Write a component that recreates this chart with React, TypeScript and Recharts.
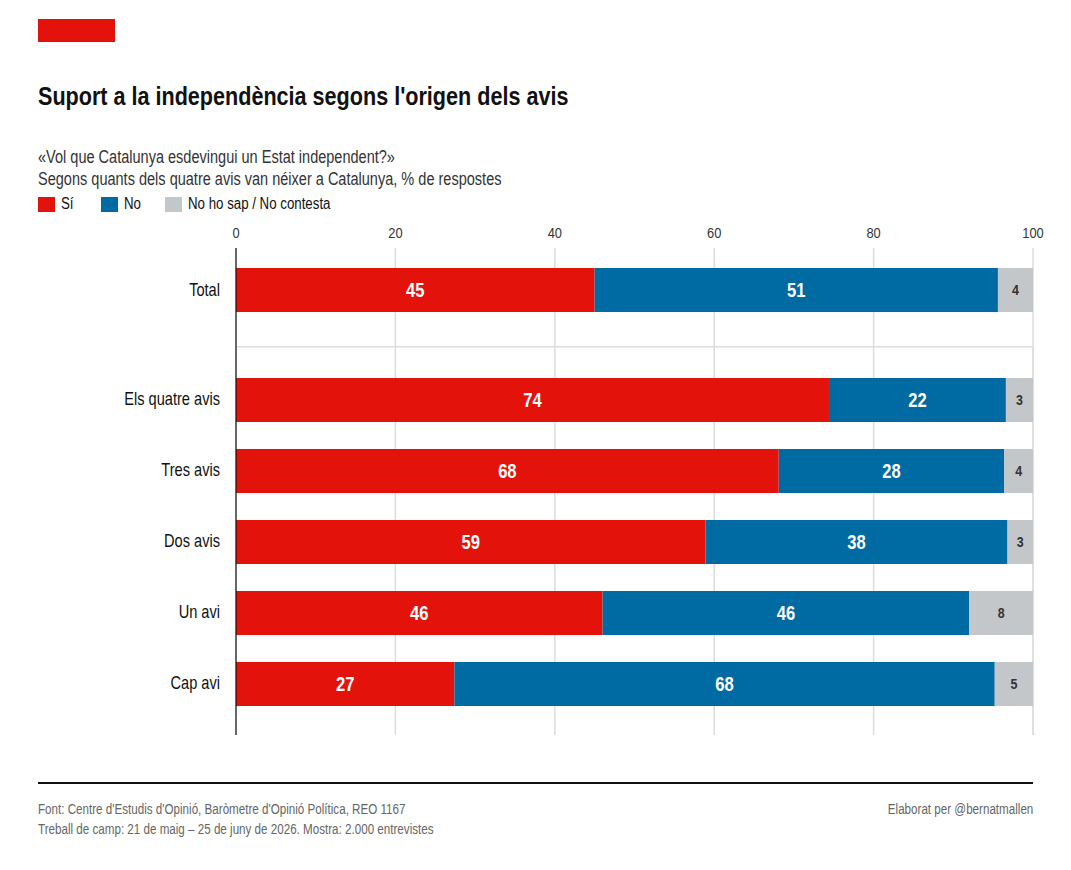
import React from "react";
import {
  BarChart,
  Bar,
  XAxis,
  YAxis,
  CartesianGrid,
  LabelList,
} from "recharts";

const categories = [
  "Total",
  "Els quatre avis",
  "Tres avis",
  "Dos avis",
  "Un avi",
  "Cap avi",
];
const si = [45.0, 74.4, 68.1, 58.9, 46.0, 27.4];
const no = [50.6, 22.2, 28.3, 37.9, 46.0, 67.8];
const nsnc = [4.4, 3.4, 3.6, 3.2, 8.0, 4.8];
const xTicks = [0, 20, 40, 60, 80, 100];

const RED = "#e3130c";
const BLUE = "#006aa2";
const GRAY = "#c3c7ca";
const FONT = "'Liberation Sans', Arial, sans-serif";
// no narrow font installed: squeeze Liberation Sans horizontally
const SQ = 0.83;

const rows = categories.map((name, i) => ({
  name,
  si: si[i],
  no: no[i],
  nsnc: nsnc[i],
}));
const totalRows = rows.slice(0, 1);
const groupRows = rows.slice(1);

const squeeze = (x: number, y: number) =>
  `translate(${x},${y}) scale(${SQ},1) translate(${-x},${-y})`;

const YTick = (props: any) => {
  const { x, y, payload } = props;
  return (
    <text
      x={x}
      y={y}
      dy={6}
      textAnchor="end"
      transform={squeeze(x, y)}
      fill="#111"
      fontSize={17.6}
      fontFamily={FONT}
    >
      {payload.value}
    </text>
  );
};

const XTick = (props: any) => {
  const { x, y, payload } = props;
  return (
    <text
      x={x}
      y={y}
      dy={-2}
      textAnchor="middle"
      transform={squeeze(x, y)}
      fill="#333"
      fontSize={15.5}
      fontFamily={FONT}
    >
      {payload.value}
    </text>
  );
};

const barLabel = (color: string, size: number) => (props: any) => {
  const { x, y, width, height, value } = props;
  const cx = Number(x) + Number(width) / 2;
  const cy = Number(y) + Number(height) / 2;
  return (
    <text
      x={cx}
      y={cy}
      dy={size * 0.36}
      textAnchor="middle"
      transform={squeeze(cx, cy)}
      fill={color}
      fontSize={size}
      fontWeight={700}
      fontFamily={FONT}
    >
      {Math.round(Number(value))}
    </text>
  );
};

const Series = () => (
  <>
    <Bar dataKey="si" stackId="a" fill={RED} barSize={44} isAnimationActive={false}>
      <LabelList dataKey="si" content={barLabel("#fff", 20)} />
    </Bar>
    <Bar dataKey="no" stackId="a" fill={BLUE} barSize={44} isAnimationActive={false}>
      <LabelList dataKey="no" content={barLabel("#fff", 20)} />
    </Bar>
    <Bar dataKey="nsnc" stackId="a" fill={GRAY} barSize={44} isAnimationActive={false}>
      <LabelList dataKey="nsnc" content={barLabel("#333", 15)} />
    </Bar>
  </>
);

const legend = [
  { label: "Sí", color: RED, x: 38 },
  { label: "No", color: BLUE, x: 101 },
  { label: "No ho sap / No contesta", color: GRAY, x: 165 },
];

const Narrow = ({ children, origin = "left top" }: any) => (
  <div style={{ transform: `scaleX(${SQ})`, transformOrigin: origin, whiteSpace: "nowrap" }}>
    {children}
  </div>
);

export default function App() {
  return (
    <div
      style={{
        position: "absolute",
        left: 0,
        top: 0,
        width: 1071,
        height: 870,
        background: "#fff",
        fontFamily: FONT,
        color: "#111",
      }}
    >
      <div style={{ position: "absolute", left: 38, top: 19, width: 77, height: 23, background: RED }} />
      <div style={{ position: "absolute", left: 38, top: 81, fontSize: 26, fontWeight: 700, color: "#111" }}>
        <Narrow>Suport a la independència segons l'origen dels avis</Narrow>
      </div>
      <div style={{ position: "absolute", left: 38, top: 146, fontSize: 17.5, color: "#333", lineHeight: "22px" }}>
        <Narrow>
          «Vol que Catalunya esdevingui un Estat independent?»
          <br />
          Segons quants dels quatre avis van néixer a Catalunya, % de respostes
        </Narrow>
      </div>
      {legend.map((l) => (
        <div key={l.label} style={{ position: "absolute", left: l.x, top: 196, height: 16, display: "flex", alignItems: "center", whiteSpace: "nowrap" }}>
          <span style={{ display: "inline-block", width: 17, height: 15, background: l.color, marginRight: 6 }} />
          <span style={{ fontSize: 16, color: "#111", display: "inline-block", transform: `scaleX(${SQ})`, transformOrigin: "left center" }}>
            {l.label}
          </span>
        </div>
      ))}

      <div style={{ position: "absolute", left: 0, top: 218 }}>
        <BarChart
          width={1071}
          height={128}
          data={totalRows}
          layout="vertical"
          margin={{ top: 0, right: 38, bottom: 0, left: 0 }}
        >
          <CartesianGrid horizontal={false} stroke="#dcdcdc" strokeWidth={1.5} />
          <XAxis
            type="number"
            orientation="top"
            domain={[0, 100]}
            ticks={xTicks}
            axisLine={false}
            tickLine={false}
            height={30}
            tickSize={0}
            tickMargin={8}
            tick={<XTick />}
          />
          <YAxis
            type="category"
            dataKey="name"
            width={236}
            axisLine={{ stroke: "#111", strokeWidth: 1.2 }}
            tickLine={false}
            tickSize={0}
            tickMargin={16}
            padding={{ top: 0, bottom: 14 }}
            tick={<YTick />}
          />
          {Series()}
        </BarChart>
      </div>

      <div style={{ position: "absolute", left: 0, top: 346 }}>
        <BarChart
          width={1071}
          height={389}
          data={groupRows}
          layout="vertical"
          margin={{ top: 0, right: 38, bottom: 0, left: 0 }}
        >
          <CartesianGrid
            stroke="#dcdcdc"
            strokeWidth={1.5}
            horizontalCoordinatesGenerator={(p: any) => [p.offset.top + 0.75]}
          />
          <XAxis type="number" domain={[0, 100]} ticks={xTicks} hide />
          <YAxis
            type="category"
            dataKey="name"
            width={236}
            axisLine={{ stroke: "#111", strokeWidth: 1.2 }}
            tickLine={false}
            tickSize={0}
            tickMargin={16}
            padding={{ top: 18, bottom: 16 }}
            tick={<YTick />}
          />
          {Series()}
        </BarChart>
      </div>

      <div style={{ position: "absolute", left: 38, top: 782, width: 995, height: 2, background: "#111" }} />
      <div style={{ position: "absolute", left: 38, top: 799, fontSize: 14, color: "#666", lineHeight: "20px" }}>
        <Narrow>
          Font: Centre d'Estudis d'Opinió, Baròmetre d'Opinió Política, REO 1167
          <br />
          Treball de camp: 21 de maig – 25 de juny de 2026. Mostra: 2.000 entrevistes
        </Narrow>
      </div>
      <div style={{ position: "absolute", right: 38, top: 799, fontSize: 14, color: "#666", lineHeight: "20px" }}>
        <Narrow origin="right top">Elaborat per @bernatmallen</Narrow>
      </div>
    </div>
  );
}
